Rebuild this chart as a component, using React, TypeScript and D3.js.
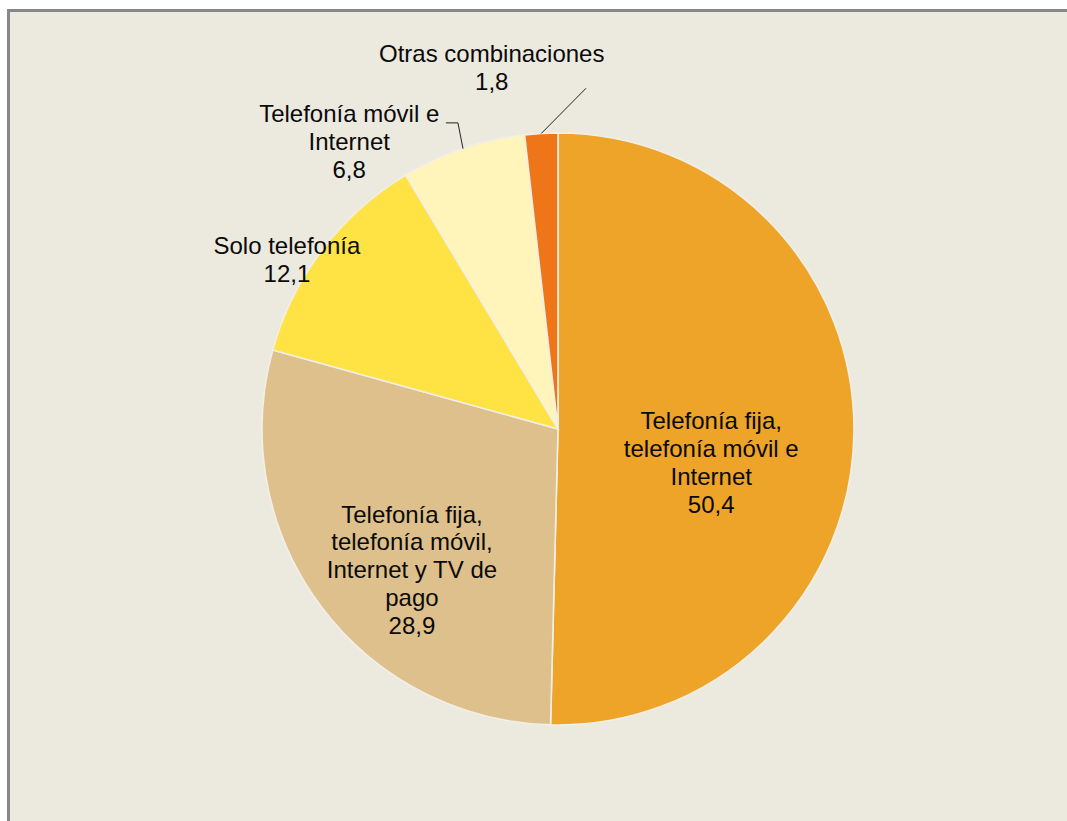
import React from "react";
import * as d3 from "d3";

const categories = [
  ["Telefonía fija,", "telefonía móvil e", "Internet"],
  ["Telefonía fija,", "telefonía móvil,", "Internet y TV de", "pago"],
  ["Solo telefonía"],
  ["Telefonía móvil e", "Internet"],
  ["Otras combinaciones"],
];
const values = [50.4, 28.9, 12.1, 6.8, 1.8];
const valueLabels = ["50,4", "28,9", "12,1", "6,8", "1,8"];
const colors = ["#EDA428", "#DEC08C", "#FFE244", "#FFF4BA", "#EE7518"];
// label placement: angle (deg, clockwise from top) and radius factor
const labelAngle = [102.4, 226, 302, 324, 349.6];
const labelRadius = [0.53, 0.686, 1.08, 1.2, 1.24];

const W = 1067;
const H = 821;
const cx = 558;
const cy = 429;
const R = 296;
const fontSize = 24;
const lineH = 27.8;

function polar(angleDeg: number, r: number): [number, number] {
  const a = (angleDeg * Math.PI) / 180;
  return [cx + r * Math.sin(a), cy - r * Math.cos(a)];
}

export default function App() {
  const pie = d3.pie<number>().sort(null).value((d) => d);
  const arcs = pie(values);
  const arc = d3.arc<d3.PieArcDatum<number>>().innerRadius(0).outerRadius(R);

  const midDeg = (i: number) =>
    (((arcs[i].startAngle + arcs[i].endAngle) / 2) * 180) / Math.PI;

  // leader lines
  const p5a = polar(midDeg(4), R);
  const p5b = polar(4.7, R * 1.155);
  const p4a = polar(midDeg(3), R);
  const p4b = polar(-18.1, R * 1.088);
  const p4c: [number, number] = [p4b[0] - 12, p4b[1]];

  return (
    <svg
      width={W}
      height={H}
      style={{ position: "absolute", left: 0, top: 0, display: "block" }}
      fontFamily="'Liberation Sans', Arial, sans-serif"
    >
      <rect x={0} y={0} width={W} height={H} fill="#ffffff" />
      <rect x={8.5} y={10.5} width={W + 10} height={H + 10} fill="#ECE9DF" stroke="#878787" strokeWidth={3} />
      <g transform={`translate(${cx},${cy})`}>
        {arcs.map((a, i) => (
          <path key={i} d={arc(a) || ""} fill={colors[i]} stroke="#F2EFE6" strokeWidth={1.6} />
        ))}
      </g>
      <polyline
        points={`${p5a[0]},${p5a[1]} ${p5b[0]},${p5b[1]}`}
        fill="none"
        stroke="#222"
        strokeWidth={1}
      />
      <polyline
        points={`${p4a[0]},${p4a[1]} ${p4b[0]},${p4b[1]} ${p4c[0]},${p4c[1]}`}
        fill="none"
        stroke="#222"
        strokeWidth={1}
      />
      {categories.map((lines, i) => {
        const all = [...lines, valueLabels[i]];
        const [lx, ly] = polar(labelAngle[i], R * labelRadius[i]);
        const n = all.length;
        const firstBaseline = ly - ((n - 1) * lineH) / 2 + fontSize * 0.34;
        return (
          <text key={i} x={lx} textAnchor="middle" fontSize={fontSize} fill="#0a0a0a">
            {all.map((t, j) => (
              <tspan key={j} x={lx} y={firstBaseline + j * lineH}>
                {t}
              </tspan>
            ))}
          </text>
        );
      })}
    </svg>
  );
}
